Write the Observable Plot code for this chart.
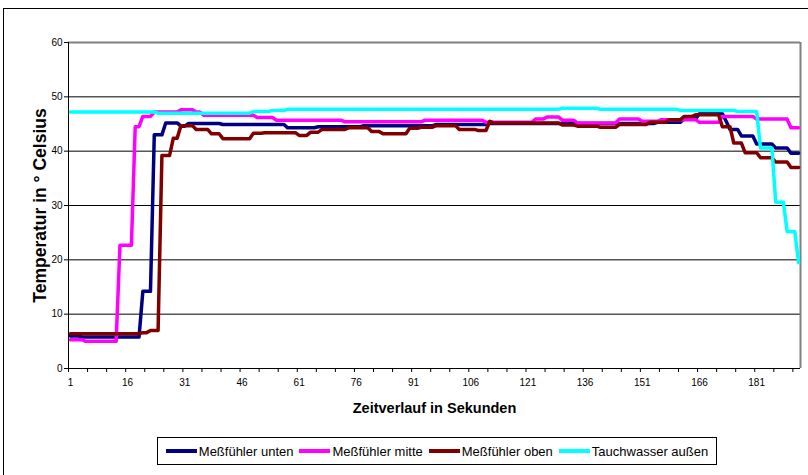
<!DOCTYPE html>
<html><head><meta charset="utf-8">
<script src="https://cdn.jsdelivr.net/npm/d3@7"></script>
<script src="https://cdn.jsdelivr.net/npm/@observablehq/plot@0.6"></script>
<style>
html,body{margin:0;padding:0;background:#fff;overflow:hidden;}
#wrap{position:relative;width:808px;height:475px;font-family:"Liberation Sans",Arial,sans-serif;overflow:hidden;}
#frame{position:absolute;left:3px;top:8px;width:830px;height:500px;border:1px solid #000;box-sizing:border-box;}
#chart{position:absolute;left:0;top:0;}
#legend{position:absolute;left:157px;top:437px;width:560px;height:28px;border:1px solid #000;box-sizing:border-box;display:flex;align-items:center;justify-content:center;font-size:13px;color:#000;background:#fff;}
.item{display:flex;align-items:center;margin:0 3px;white-space:nowrap;}
.swatch{width:31px;height:4px;margin-right:2px;}
g[aria-label="x-axis label"] text{font-size:14.5px;font-weight:bold;}
g[aria-label="y-axis label"] text{font-size:17.5px;font-weight:bold;}
</style></head>
<body><div id="wrap"><div id="frame"></div><div id="chart"></div><div id="legend"></div></div>
<script>
const seriesNames = ["Meßfühler unten", "Meßfühler mitte", "Meßfühler oben", "Tauchwasser außen"];
const seriesColors = ["#000080", "#FF00FF", "#800000", "#00FFFF"];
const seconds = d3.range(1, 193);
const xTickLabels = [1, 16, 31, 46, 61, 76, 91, 106, 121, 136, 151, 166, 181];
const yTicks = [0, 10, 20, 30, 40, 50, 60];

const unten = [
6.0,6.0,6.0,5.8,5.8,5.8,5.8,5.8,5.8,5.8,
5.8,5.8,5.8,5.8,5.8,5.8,5.8,5.8,5.8,14.2,
14.2,14.2,43.0,43.0,43.0,45.2,45.2,45.2,45.2,44.6,
44.6,45.1,45.1,45.1,45.1,45.1,45.1,45.1,45.1,45.1,
44.9,44.9,44.9,44.9,44.9,44.9,44.9,44.9,44.9,44.9,
44.9,44.9,44.9,44.9,44.9,44.9,44.9,44.3,44.3,44.3,
44.3,44.3,44.3,44.3,44.3,44.5,44.5,44.5,44.5,44.5,
44.5,44.5,44.5,44.5,44.5,44.5,44.5,44.7,44.7,44.7,
44.7,44.7,44.7,44.7,44.7,44.7,44.7,44.7,44.7,44.7,
44.7,44.7,44.7,44.7,44.7,44.7,44.9,44.9,44.9,44.9,
44.9,44.9,44.9,44.9,44.9,44.9,44.9,44.9,44.9,44.9,
45.1,45.1,45.1,45.1,45.1,45.1,45.1,45.1,45.1,45.1,
45.1,45.1,45.1,45.1,45.1,45.1,45.1,45.1,45.1,45.1,
45.1,45.1,45.1,45.1,45.1,45.1,45.1,45.1,45.1,45.1,
45.1,45.1,45.1,45.1,45.1,45.1,45.1,45.1,45.1,45.1,
45.1,45.1,45.1,45.1,45.3,45.3,45.3,45.3,45.3,45.3,
45.3,46.0,46.0,46.0,46.0,46.9,46.9,46.9,46.9,46.9,
46.9,46.9,45.5,44.0,44.0,44.0,42.8,42.8,42.8,42.8,
41.3,41.3,41.3,41.3,41.3,40.6,40.6,40.6,40.6,39.6,
39.6,39.6];

const mitte = [
5.3,5.3,5.3,5.3,5.0,5.0,5.0,5.0,5.0,5.0,
5.0,5.0,5.0,22.7,22.7,22.7,22.7,44.5,44.5,46.4,
46.4,46.4,47.2,47.2,47.2,47.2,47.2,47.2,47.2,47.6,
47.6,47.6,47.6,47.2,47.2,46.6,46.6,46.6,46.6,46.6,
46.6,46.6,46.6,46.6,46.6,46.6,46.6,46.6,46.6,46.2,
46.2,46.2,46.2,46.2,45.7,45.7,45.7,45.7,45.7,45.7,
45.7,45.7,45.7,45.7,45.7,45.7,45.7,45.7,45.7,45.7,
45.7,45.7,45.4,45.4,45.4,45.4,45.4,45.4,45.4,45.4,
45.4,45.4,45.4,45.4,45.4,45.4,45.4,45.4,45.4,45.4,
45.4,45.4,45.4,45.7,45.7,45.7,45.7,45.7,45.7,45.7,
45.7,45.7,45.7,45.7,45.7,45.7,45.7,45.7,45.7,45.3,
45.3,45.3,45.3,45.3,45.3,45.3,45.3,45.3,45.3,45.3,
45.3,45.3,45.9,45.9,45.9,46.3,46.3,46.3,46.3,45.7,
45.7,45.7,45.7,45.2,45.2,45.2,45.2,45.2,45.2,45.2,
45.2,45.2,45.2,45.2,45.9,45.9,45.9,45.9,45.9,45.9,
45.5,45.5,45.5,45.5,45.5,45.8,45.8,45.8,45.8,45.8,
45.8,45.8,45.8,45.8,45.8,45.3,45.3,45.3,45.3,45.3,
45.3,46.4,46.4,46.4,46.4,46.4,46.4,46.4,46.4,46.4,
45.9,45.9,45.9,45.9,45.9,45.9,45.9,45.9,45.9,44.3,
44.3,44.3];

const oben = [
6.4,6.4,6.4,6.4,6.4,6.4,6.4,6.4,6.4,6.4,
6.4,6.4,6.4,6.4,6.4,6.4,6.4,6.4,6.4,6.6,
6.6,7.0,7.0,7.0,39.2,39.2,39.2,42.4,42.4,44.7,
44.7,44.7,44.7,44.0,44.0,44.0,44.0,43.2,43.2,43.2,
42.3,42.3,42.3,42.3,42.3,42.3,42.3,42.3,43.3,43.3,
43.3,43.4,43.4,43.4,43.4,43.4,43.4,43.4,43.4,43.4,
42.9,42.9,42.9,43.5,43.5,43.5,44.0,44.0,44.0,44.0,
44.0,44.0,44.0,44.3,44.3,44.3,44.3,44.3,44.3,43.6,
43.6,43.6,43.2,43.2,43.2,43.2,43.2,43.2,43.2,44.2,
44.2,44.2,44.4,44.4,44.4,44.4,44.7,44.7,44.7,44.7,
44.7,44.7,44.0,44.0,44.0,44.0,44.0,43.8,43.8,43.8,
45.5,45.2,45.2,45.2,45.2,45.2,45.2,45.2,45.2,45.2,
45.2,45.2,45.2,45.2,45.2,45.2,45.2,45.2,45.2,44.8,
44.8,44.8,44.8,44.6,44.6,44.6,44.6,44.6,44.6,44.4,
44.4,44.4,44.4,44.4,44.9,44.9,44.9,44.9,44.9,44.9,
44.9,44.9,45.3,45.3,45.3,45.3,45.3,45.8,45.8,45.8,
45.8,46.4,46.4,46.4,46.7,46.7,46.7,46.7,46.7,46.7,
46.7,44.5,44.5,44.5,41.5,41.5,41.5,39.7,39.7,39.7,
39.7,38.8,38.8,38.8,38.8,38.0,38.0,38.0,38.0,37.0,
37.0,37.0];

const tauchwasser = [
47.2,47.2,47.2,47.2,47.2,47.2,47.2,47.2,47.2,47.2,
47.2,47.2,47.2,47.2,47.2,47.2,47.2,47.2,47.2,47.2,
47.2,47.2,47.2,47.0,47.0,47.0,47.0,47.0,47.0,47.0,
47.0,47.0,47.0,47.0,47.0,47.0,47.0,47.0,47.0,47.0,
47.0,47.0,47.0,47.0,47.0,47.0,47.0,47.0,47.3,47.3,
47.3,47.3,47.3,47.5,47.5,47.5,47.5,47.7,47.7,47.7,
47.7,47.7,47.7,47.7,47.7,47.7,47.7,47.7,47.7,47.7,
47.7,47.7,47.7,47.7,47.7,47.7,47.7,47.7,47.7,47.7,
47.7,47.7,47.7,47.7,47.7,47.7,47.7,47.7,47.7,47.7,
47.7,47.7,47.7,47.7,47.7,47.7,47.7,47.7,47.7,47.7,
47.7,47.7,47.7,47.7,47.7,47.7,47.7,47.7,47.7,47.7,
47.7,47.7,47.7,47.7,47.7,47.7,47.7,47.7,47.7,47.7,
47.7,47.7,47.7,47.7,47.7,47.7,47.7,47.7,47.7,47.9,
47.9,47.9,47.9,47.9,47.9,47.9,47.9,47.9,47.9,47.7,
47.7,47.7,47.7,47.7,47.7,47.7,47.7,47.7,47.7,47.7,
47.7,47.7,47.7,47.7,47.7,47.7,47.7,47.7,47.7,47.7,
47.5,47.5,47.5,47.5,47.5,47.5,47.5,47.5,47.5,47.5,
47.5,47.5,47.5,47.5,47.5,47.3,47.3,47.3,47.3,47.3,
47.3,40.6,40.6,40.6,40.6,30.6,30.6,30.6,25.2,25.2,
25.2,19.5];

const seriesValues = [unten, mitte, oben, tauchwasser];
const rows = [];
seriesValues.forEach((vals, k) => vals.forEach((v, i) => rows.push({t: seconds[i], v, s: seriesNames[k]})));

const n = seconds.length;
const minorTicks = d3.range(0, n + 1, 5).map(d => d + 0.5);

const chart = Plot.plot({
  width: 808, height: 430,
  marginTop: 42, marginLeft: 68, marginRight: 8, marginBottom: 62,
  style: {fontFamily: "'Liberation Sans', Arial, sans-serif", fontSize: "10px", background: "transparent", color: "#000"},
  x: {type: "linear", domain: [0.5, n + 0.5]},
  y: {domain: [0, 60]},
  color: {domain: seriesNames, range: seriesColors},
  marks: [
    Plot.gridY(yTicks.filter(d => d > 0 && d < 60), {stroke: "#000", strokeOpacity: 1}),
    Plot.ruleY([60], {stroke: "#808080", strokeWidth: 2}),
    Plot.ruleX([n + 0.5], {stroke: "#808080", strokeWidth: 2}),
    Plot.line(rows, {x: "t", y: "v", z: "s", stroke: "s", strokeWidth: 3.5, strokeLinejoin: "round"}),
    Plot.ruleX([0.5], {stroke: "#000"}),
    Plot.ruleY([0], {stroke: "#000"}),
    Plot.axisY(yTicks, {tickSize: 4, tickPadding: 2, label: "Temperatur in ° Celsius", labelAnchor: "center", labelOffset: 35, labelArrow: "none"}),
    Plot.axisX(xTickLabels, {tickSize: 0, tickPadding: 10, label: "Zeitverlauf in Sekunden", labelAnchor: "center", labelOffset: 44, labelArrow: "none"}),
    Plot.axisX(minorTicks, {tickSize: 4, tickFormat: () => "", label: null})
  ]
});
document.getElementById("chart").appendChild(chart);

const legend = document.getElementById("legend");
seriesNames.forEach((name, k) => {
  const item = document.createElement("div");
  item.className = "item";
  const sw = document.createElement("span");
  sw.className = "swatch";
  sw.style.background = seriesColors[k];
  const tx = document.createElement("span");
  tx.textContent = name;
  item.appendChild(sw); item.appendChild(tx);
  legend.appendChild(item);
});
</script></body></html>
